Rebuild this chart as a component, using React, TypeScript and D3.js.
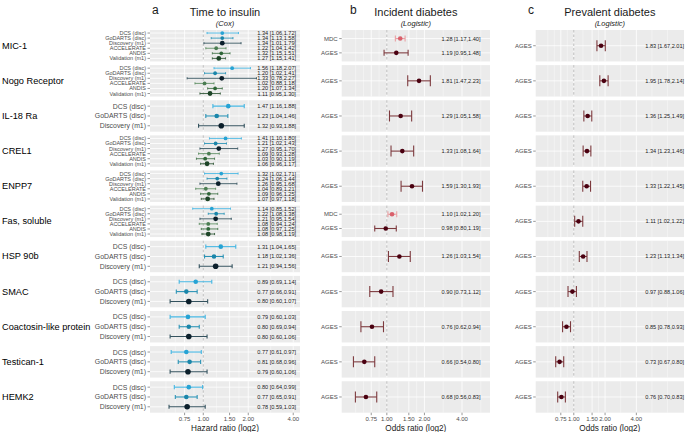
import * as d3 from "d3";

const WIDTH = 685;
const HEIGHT = 432;
const FONT = "'Liberation Sans', Arial, sans-serif";

const proteins = [
  "MIC-1",
  "Nogo Receptor",
  "IL-18 Ra",
  "CREL1",
  "ENPP7",
  "Fas, soluble",
  "HSP 90b",
  "SMAC",
  "Coactosin-like protein",
  "Testican-1",
  "HEMK2",
];

const cohortsA = ["DCS (disc)", "GoDARTS (disc)", "Discovery (m1)", "ACCELERATE", "ANDIS", "Validation (m1)"];
const cohortsB = ["MDC", "AGES"];

// [protein, cohort, estimate, lower, upper]
type Row = [string, string, number, number, number];

const timeToInsulin: Row[] = [
  ["MIC-1", "DCS (disc)", 1.34, 1.06, 1.72],
  ["MIC-1", "GoDARTS (disc)", 1.34, 1.13, 1.58],
  ["MIC-1", "Discovery (m1)", 1.34, 1.01, 1.79],
  ["MIC-1", "ACCELERATE", 1.22, 1.04, 1.42],
  ["MIC-1", "ANDIS", 1.32, 1.15, 1.51],
  ["MIC-1", "Validation (m1)", 1.27, 1.15, 1.41],
  ["Nogo Receptor", "DCS (disc)", 1.56, 1.18, 2.07],
  ["Nogo Receptor", "GoDARTS (disc)", 1.2, 1.02, 1.41],
  ["Nogo Receptor", "Discovery (m1)", 1.33, 0.78, 2.27],
  ["Nogo Receptor", "ACCELERATE", 1.02, 0.88, 1.18],
  ["Nogo Receptor", "ANDIS", 1.2, 1.07, 1.34],
  ["Nogo Receptor", "Validation (m1)", 1.11, 0.95, 1.3],
  ["IL-18 Ra", "DCS (disc)", 1.47, 1.16, 1.88],
  ["IL-18 Ra", "GoDARTS (disc)", 1.23, 1.04, 1.46],
  ["IL-18 Ra", "Discovery (m1)", 1.32, 0.93, 1.88],
  ["CREL1", "DCS (disc)", 1.41, 1.1, 1.8],
  ["CREL1", "GoDARTS (disc)", 1.21, 1.02, 1.43],
  ["CREL1", "Discovery (m1)", 1.27, 0.95, 1.7],
  ["CREL1", "ACCELERATE", 1.09, 0.93, 1.28],
  ["CREL1", "ANDIS", 1.03, 0.9, 1.19],
  ["CREL1", "Validation (m1)", 1.06, 0.96, 1.17],
  ["ENPP7", "DCS (disc)", 1.32, 1.02, 1.71],
  ["ENPP7", "GoDARTS (disc)", 1.24, 1.06, 1.44],
  ["ENPP7", "Discovery (m1)", 1.26, 0.95, 1.68],
  ["ENPP7", "ACCELERATE", 1.04, 0.89, 1.21],
  ["ENPP7", "ANDIS", 1.09, 0.96, 1.25],
  ["ENPP7", "Validation (m1)", 1.07, 0.97, 1.18],
  ["Fas, soluble", "DCS (disc)", 1.14, 0.85, 1.52],
  ["Fas, soluble", "GoDARTS (disc)", 1.22, 1.08, 1.38],
  ["Fas, soluble", "Discovery (m1)", 1.21, 0.95, 1.54],
  ["Fas, soluble", "ACCELERATE", 1.08, 0.94, 1.24],
  ["Fas, soluble", "ANDIS", 1.08, 0.97, 1.25],
  ["Fas, soluble", "Validation (m1)", 1.08, 0.98, 1.19],
  ["HSP 90b", "DCS (disc)", 1.31, 1.04, 1.65],
  ["HSP 90b", "GoDARTS (disc)", 1.18, 1.02, 1.36],
  ["HSP 90b", "Discovery (m1)", 1.21, 0.94, 1.56],
  ["SMAC", "DCS (disc)", 0.89, 0.69, 1.14],
  ["SMAC", "GoDARTS (disc)", 0.77, 0.66, 0.91],
  ["SMAC", "Discovery (m1)", 0.8, 0.6, 1.07],
  ["Coactosin-like protein", "DCS (disc)", 0.79, 0.6, 1.03],
  ["Coactosin-like protein", "GoDARTS (disc)", 0.8, 0.69, 0.94],
  ["Coactosin-like protein", "Discovery (m1)", 0.8, 0.6, 1.06],
  ["Testican-1", "DCS (disc)", 0.77, 0.61, 0.97],
  ["Testican-1", "GoDARTS (disc)", 0.81, 0.68, 0.96],
  ["Testican-1", "Discovery (m1)", 0.79, 0.6, 1.06],
  ["HEMK2", "DCS (disc)", 0.8, 0.64, 0.99],
  ["HEMK2", "GoDARTS (disc)", 0.77, 0.65, 0.91],
  ["HEMK2", "Discovery (m1)", 0.78, 0.59, 1.03],
];

const incidentDiabetes: Row[] = [
  ["MIC-1", "MDC", 1.28, 1.17, 1.4],
  ["MIC-1", "AGES", 1.19, 0.95, 1.48],
  ["Nogo Receptor", "AGES", 1.81, 1.47, 2.23],
  ["IL-18 Ra", "AGES", 1.29, 1.05, 1.58],
  ["CREL1", "AGES", 1.33, 1.08, 1.64],
  ["ENPP7", "AGES", 1.59, 1.3, 1.93],
  ["Fas, soluble", "MDC", 1.1, 1.02, 1.2],
  ["Fas, soluble", "AGES", 0.98, 0.8, 1.19],
  ["HSP 90b", "AGES", 1.26, 1.03, 1.54],
  ["SMAC", "AGES", 0.9, 0.73, 1.12],
  ["Coactosin-like protein", "AGES", 0.76, 0.62, 0.94],
  ["Testican-1", "AGES", 0.66, 0.54, 0.8],
  ["HEMK2", "AGES", 0.68, 0.56, 0.83],
];

const prevalentDiabetes: Row[] = [
  ["MIC-1", "AGES", 1.83, 1.67, 2.01],
  ["Nogo Receptor", "AGES", 1.95, 1.78, 2.14],
  ["IL-18 Ra", "AGES", 1.36, 1.25, 1.49],
  ["CREL1", "AGES", 1.34, 1.23, 1.46],
  ["ENPP7", "AGES", 1.33, 1.22, 1.45],
  ["Fas, soluble", "AGES", 1.11, 1.02, 1.22],
  ["HSP 90b", "AGES", 1.23, 1.13, 1.34],
  ["SMAC", "AGES", 0.97, 0.88, 1.06],
  ["Coactosin-like protein", "AGES", 0.85, 0.78, 0.93],
  ["Testican-1", "AGES", 0.73, 0.67, 0.8],
  ["HEMK2", "AGES", 0.76, 0.7, 0.83],
];

const tickValues = [0.75, 1, 1.5, 2, 4];
const tickLabels = ["0.75", "1.00", "1.50", "2.00", "4.00"];

const cohortColors: Record<string, { pt: string; bar: string }> = {
  "DCS (disc)": { pt: "#27a3d4", bar: "#45b6e2" },
  "GoDARTS (disc)": { pt: "#1a86aa", bar: "#2b93b5" },
  "Discovery (m1)": { pt: "#0b1f2b", bar: "#34525e" },
  ACCELERATE: { pt: "#4b7d52", bar: "#5d8d62" },
  ANDIS: { pt: "#2f6638", bar: "#437449" },
  "Validation (m1)": { pt: "#1d4527", bar: "#335a3a" },
  MDC: { pt: "#d9606b", bar: "#e9a1a4" },
  AGES: { pt: "#4a0010", bar: "#7d3a3e" },
};

type Panel = {
  letter: string;
  letterX: number;
  title: string;
  subtitle: string;
  xTitle: string;
  rows: Row[];
  cohorts: string[];
  range: [number, number];
  domain: [number, number];
  textAt: number;
};

const panels: Panel[] = [
  {
    letter: "a", letterX: 152, title: "Time to insulin", subtitle: "(Cox)", xTitle: "Hazard ratio (log2)",
    rows: timeToInsulin, cohorts: cohortsA, range: [150, 300], domain: [0.44, 4.44], textAt: 3.1,
  },
  {
    letter: "b", letterX: 350, title: "Incident diabetes", subtitle: "(Logistic)", xTitle: "Odds ratio (log2)",
    rows: incidentDiabetes, cohorts: cohortsB, range: [341.7, 490], domain: [0.435, 6.7], textAt: 3.93,
  },
  {
    letter: "c", letterX: 528, title: "Prevalent diabetes", subtitle: "(Logistic)", xTitle: "Odds ratio (log2)",
    rows: prevalentDiabetes, cohorts: cohortsB, range: [535.7, 684], domain: [0.43, 11.5], textAt: 7.5,
  },
];

const fmt = d3.format(".2f");

// panels stacked vertically, equal height
const yBand = d3.scaleBand<string>().domain(proteins).range([30, 412.7]).paddingInner(0.105).paddingOuter(0);

// minor grid: geometric midpoints between majors, extended one step each side
const minorValues = (() => {
  const out: number[] = [];
  for (let i = 0; i < tickValues.length - 1; i++) out.push(Math.sqrt(tickValues[i] * tickValues[i + 1]));
  out.push(tickValues[0] * Math.sqrt(tickValues[0] / tickValues[1]));
  out.push(tickValues[0] * (tickValues[0] / tickValues[1]));
  const last = tickValues[tickValues.length - 1];
  const prev = tickValues[tickValues.length - 2];
  out.push(last * Math.sqrt(last / prev));
  out.push(last * (last / prev));
  return out;
})();

function PanelColumn({ p, first }: { p: Panel; first: boolean }) {
  const x = d3.scaleLog().base(2).domain(p.domain).range(p.range);
  const [x0, x1] = p.range;
  const cx = (x0 + x1) / 2;
  const bottom = (yBand(proteins[proteins.length - 1]) ?? 0) + yBand.bandwidth();

  return (
    <g>
      <text x={p.letterX} y={14} fontSize={12} fill="#1a1a1a">{p.letter}</text>
      <text x={cx} y={16} fontSize={11} textAnchor="middle" fill="#1a1a1a">{p.title}</text>
      <text x={cx} y={26} fontSize={7.5} fontStyle="italic" textAnchor="middle" fill="#1a1a1a">{p.subtitle}</text>

      {proteins.map((prot) => {
        const top = yBand(prot) ?? 0;
        const h = yBand.bandwidth();
        const rows = p.rows.filter((r) => r[0] === prot);
        const present = p.cohorts.filter((c) => rows.some((r) => r[1] === c));
        const y = d3.scalePoint<string>().domain(present).range([top, top + h]).padding(0.6);
        const step = present.length > 1 ? y.step() : h / 1.2;
        const many = present.length >= 6;
        const labelSize = p.letter === "a" ? (many ? 5.5 : 6.9) : 6;
        const cap = step * 0.42;
        return (
          <g key={prot}>
            <rect x={x0} y={top} width={x1 - x0} height={h} fill="#ebebeb" />
            {minorValues.filter((v) => v > p.domain[0] && v < p.domain[1]).map((v, i) => (
              <line key={"m" + i} x1={x(v)} x2={x(v)} y1={top} y2={top + h} stroke="#ffffff" strokeWidth={0.4} />
            ))}
            {tickValues.map((v, i) => (
              <line key={"g" + i} x1={x(v)} x2={x(v)} y1={top} y2={top + h} stroke="#ffffff" strokeWidth={0.8} />
            ))}
            {present.map((c) => (
              <line key={"h" + c} x1={x0} x2={x1} y1={y(c)} y2={y(c)} stroke="#ffffff" strokeWidth={0.8} />
            ))}
            <line x1={x(1)} x2={x(1)} y1={top} y2={top + h} stroke="#b5b5b5" strokeWidth={0.9} strokeDasharray="2.5,2" />
            {first && (
              <text x={2} y={top + h / 2} fontSize={9.2} dominantBaseline="central" fill="#000000">{prot}</text>
            )}
            {rows.map((r) => {
              const yy = y(r[1]) ?? 0;
              const col = cohortColors[r[1]];
              const big = r[1] === "Discovery (m1)" || r[1] === "Validation (m1)";
              const rad = p.letter === "a" ? (many ? 1.9 : 2.3) + (big ? 0.5 : 0) : 2.3;
              const sw = many ? 0.9 : 1.1;
              return (
                <g key={r[1]}>
                  <line x1={x0 - 2.5} x2={x0} y1={yy} y2={yy} stroke="#333333" strokeWidth={0.5} />
                  <text x={x0 - 4} y={yy} fontSize={labelSize} textAnchor="end" dominantBaseline="central" fill="#4d4d4d">
                    {r[1]}
                  </text>
                  <line x1={x(r[3])} x2={x(r[4])} y1={yy} y2={yy} stroke={col.bar} strokeWidth={sw} />
                  <line x1={x(r[3])} x2={x(r[3])} y1={yy - cap / 2} y2={yy + cap / 2} stroke={col.bar} strokeWidth={sw} />
                  <line x1={x(r[4])} x2={x(r[4])} y1={yy - cap / 2} y2={yy + cap / 2} stroke={col.bar} strokeWidth={sw} />
                  <circle cx={x(r[2])} cy={yy} r={rad} fill={col.pt} />
                  <text x={x(p.textAt)} y={yy} fontSize={5.6} textAnchor="middle" dominantBaseline="central" fill="#1a1a1a">
                    {`${fmt(r[2])} [${fmt(r[3])},${fmt(r[4])}]`}
                  </text>
                </g>
              );
            })}
          </g>
        );
      })}

      {tickValues.map((v, i) => (
        <g key={"t" + i}>
          <line x1={x(v)} x2={x(v)} y1={bottom} y2={bottom + 2.5} stroke="#333333" strokeWidth={0.5} />
          <text x={x(v)} y={bottom + 8} fontSize={6} textAnchor="middle" fill="#4d4d4d">{tickLabels[i]}</text>
        </g>
      ))}
      <text x={cx} y={bottom + 18} fontSize={8.2} textAnchor="middle" fill="#1a1a1a">{p.xTitle}</text>
    </g>
  );
}

export default function App() {
  return (
    <svg
      width={WIDTH}
      height={HEIGHT}
      style={{ position: "absolute", left: 0, top: 0, background: "#ffffff" }}
      fontFamily={FONT}
    >
      {panels.map((p, i) => (
        <PanelColumn key={p.letter} p={p} first={i === 0} />
      ))}
    </svg>
  );
}
